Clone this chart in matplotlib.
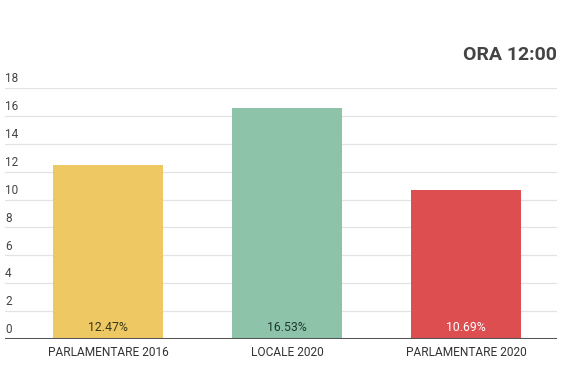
import matplotlib
matplotlib.use("Agg")
import matplotlib.pyplot as plt
from matplotlib.transforms import offset_copy

plt.rcParams['font.family'] = ['Roboto', 'DejaVu Sans']

categories = ["PARLAMENTARE 2016", "LOCALE 2020", "PARLAMENTARE 2020"]
values = [12.47, 16.53, 10.69]
value_labels = ["12.47%", "16.53%", "10.69%"]
colors = ["#EEC862", "#8DC3A8", "#DC4E50"]
label_colors = ["#3a3a1a", "#1f3a2c", "#ffffff"]
yticks = [0, 2, 4, 6, 8, 10, 12, 14, 16, 18]
title = "ORA 12:00"

W, H = 575, 387
fig = plt.figure(figsize=(W / 100, H / 100), dpi=100)
ax = fig.add_axes([5 / W, (H - 339) / H, (557 - 5) / W, 251 / H])

x = list(range(len(categories)))
ax.bar(x, values, width=0.615, color=colors, zorder=2)
ax.set_xlim(-0.575, 2.508)
ax.set_ylim(0, 18)

for t in yticks:
    ax.axhline(t, color="#e3e3e3", lw=0.9, zorder=1)
ax.axhline(0, color="#555555", lw=2.2, zorder=3)

for s in ax.spines.values():
    s.set_visible(False)
ax.set_xticks([])
ax.set_yticks([])

ytr = offset_copy(ax.get_yaxis_transform(), fig=fig, x=0, y=2, units='points')
for t in yticks:
    ax.text(0, t, str(t), transform=ytr, ha='left', va='bottom',
            fontsize=8.5, color="#444444")

for xi, lab in zip(x, categories):
    ax.text(xi, -0.95, lab, ha='center', va='center', fontsize=8.6,
            color="#333333", clip_on=False)

for xi, lab, c in zip(x, value_labels, label_colors):
    ax.text(xi, 0.8, lab, ha='center', va='center', fontsize=8.8,
            color=c, zorder=4)

fig.text(557 / W, 1 - 55 / H, title, ha='right', va='center',
         fontsize=14, fontweight='bold', color="#444444")

fig.savefig("out.png", dpi=100, facecolor="white")
